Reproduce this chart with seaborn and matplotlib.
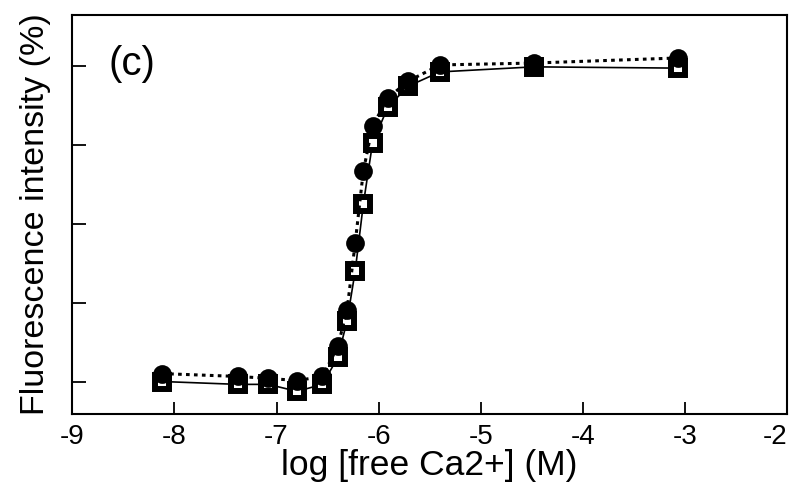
import matplotlib
matplotlib.use('Agg')
import matplotlib.pyplot as plt
import seaborn as sns
import pandas as pd

# 데이터
log_ca = [-8.12, -7.38, -7.08, -6.80, -6.55, -6.40, -6.31, -6.23,
          -6.15, -6.06, -5.91, -5.71, -5.40, -4.48, -3.07]
circle_y = [2.8, 1.9, 1.3, 0.6, 1.9, 11.4, 22.8, 43.9,
            66.7, 80.9, 89.8, 95.1, 100.2, 100.8, 102.4]
square_y = [0.3, -0.6, -0.6, -2.8, -0.6, 7.9, 19.3, 35.1,
            56.3, 75.5, 86.9, 93.5, 98.0, 99.6, 99.2]
x_ticks = [-9, -8, -7, -6, -5, -4, -3, -2]
y_ticks = [0, 25, 50, 75, 100]

df = pd.DataFrame({'log_ca': log_ca, 'circle': circle_y, 'square': square_y})

sns.set_style('ticks')
plt.rcParams['font.family'] = ['Liberation Sans', 'DejaVu Sans']
plt.rcParams['text.color'] = 'black'
plt.rcParams['axes.labelcolor'] = 'black'
plt.rcParams['axes.edgecolor'] = 'black'
plt.rcParams['xtick.color'] = 'black'
plt.rcParams['ytick.color'] = 'black'

fig = plt.figure(figsize=(7.95, 4.96), dpi=100)
ax = fig.add_axes([0.091, 0.165, 0.899, 0.805])

# 사각형 (실선)
sns.lineplot(data=df, x='log_ca', y='square', ax=ax, color='black',
             linewidth=1.2, linestyle='-', marker='s', markersize=10,
             markeredgewidth=4.3, markerfacecolor='white',
             markeredgecolor='black', errorbar=None, zorder=2)
# 원 (점선)
sns.lineplot(data=df, x='log_ca', y='circle', ax=ax, color='black',
             linewidth=2.2, linestyle=(0, (1.2, 1.4)), marker='o',
             markersize=13.5, markeredgewidth=0, markerfacecolor='black',
             errorbar=None, zorder=3)

ax.set_xlim(-9, -2)
ax.set_ylim(-10, 116)
ax.set_xticks(x_ticks)
ax.set_xticklabels([str(t) for t in x_ticks])
ax.set_yticks(y_ticks)
ax.set_yticklabels([])
ax.tick_params(axis='x', direction='in', length=9, width=1.3,
               labelsize=20, pad=7)
ax.tick_params(axis='y', direction='in', length=10, width=1.3)
ax.get_xticklabels()[-1].set_ha('right')
for s in ax.spines.values():
    s.set_visible(True)
    s.set_linewidth(1.5)

ax.set_xlabel('log [free Ca2+] (M)', fontsize=25.5)
ax.set_ylabel('Fluorescence intensity (%)', fontsize=24.5)
ax.xaxis.set_label_coords(0.5, -0.087)
ax.yaxis.set_label_coords(-0.03, 0.5)
ax.text(0.05, 0.877, '(c)', transform=ax.transAxes, fontsize=29,
        ha='left', va='center')

fig.savefig('out.png', dpi=100)
